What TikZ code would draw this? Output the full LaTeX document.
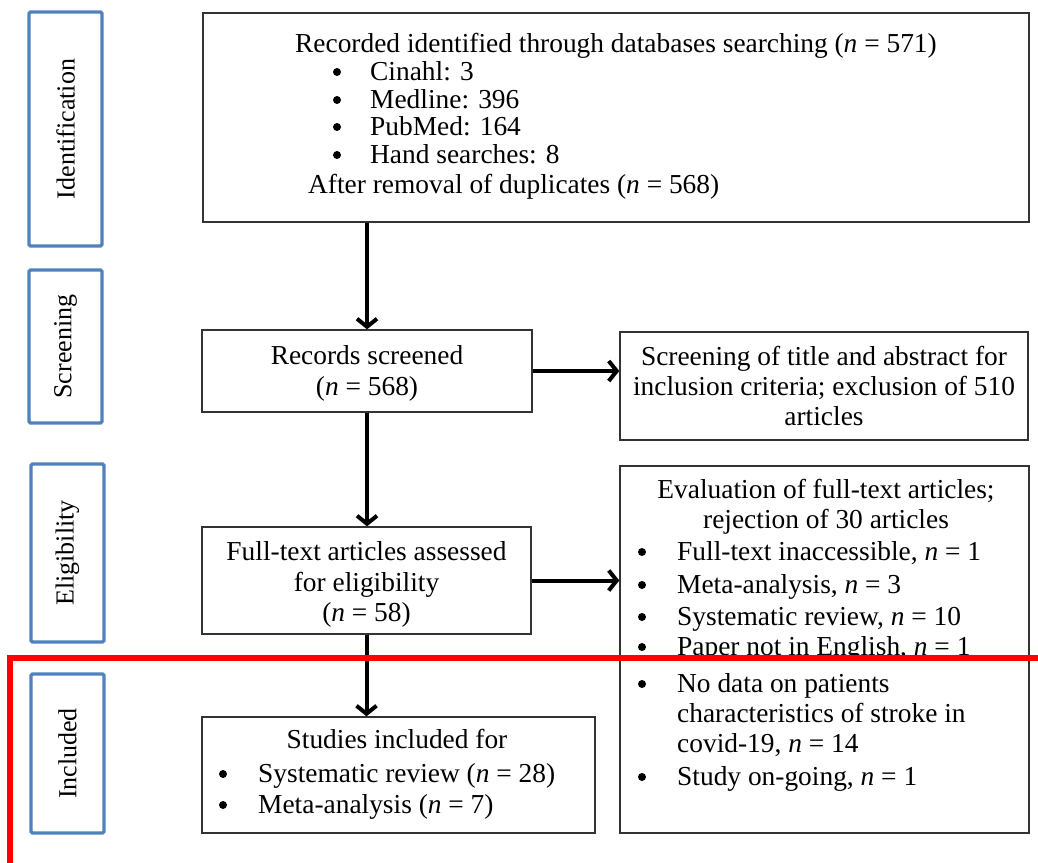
\documentclass[tikz,border=0pt]{standalone}
\usepackage{fontspec}
\setmainfont{Liberation Serif}
\usetikzlibrary{fit,arrows.meta}
\definecolor{lblblue}{HTML}{4F81BD}
\begin{document}
\begin{tikzpicture}[x=1pt,y=1pt,
  box/.style={draw=black!80, line width=1.4pt, inner sep=0pt, fill=white},
  lblbox/.style={draw=lblblue, line width=3.2pt, rounded corners=1.5pt, inner sep=0pt},
  lbltxt/.style={rotate=90, font=\fontsize{26}{30}\selectfont, inner sep=0pt},
  txt/.style={font=\fontsize{27.4}{31}\selectfont, inner sep=0pt, anchor=base},
  ltxt/.style={font=\fontsize{27.4}{31}\selectfont, inner sep=0pt, anchor=base west},
  bul/.style={circle, fill=black, inner sep=0pt, minimum size=8pt},
  arr/.style={line width=4pt, -{Straight Barb[length=8pt,width=20pt]}}
]
\useasboundingbox (0,0) rectangle (1038,-862);

% phase labels
\node[lblbox, fit={(29,-12)(102,-246)}] (l1) {};
\node[lbltxt] (l1t) at (l1.center) {Identification};
\node[lblbox, fit={(29,-270)(102,-423)}] (l2) {};
\node[lbltxt] (l2t) at (l2.center) {Screening};
\node[lblbox, fit={(31,-464)(104,-642)}] (l3) {};
\node[lbltxt] (l3t) at (l3.center) {Eligibility};
\node[lblbox, fit={(31,-674)(104,-833)}] (l4) {};
\node[lbltxt] (l4t) at (l4.center) {Included};

% boxes
\node[box, fit={(203,-13)(1029,-222)}] (b1) {};
\node[box, fit={(202,-330)(532,-412)}] (rs) {};
\node[box, fit={(620,-332)(1028,-440)}] (sc) {};
\node[box, fit={(202,-527)(531,-634)}] (ft) {};
\node[box, fit={(620,-466)(1029,-833)}] (ev) {};
\node[box, fit={(202,-717)(595,-833)}] (st) {};

% box 1 text
\node[txt] (b1a) at (616,-52) {Recorded identified through databases searching (\textit{n} = 571)};
\node[bul] (b1b1) at (337,-72) {};
\node[ltxt] (b1b) at (370,-80) {Cinahl: 3};
\node[bul] (b1c1) at (337,-100) {};
\node[ltxt] (b1c) at (370,-108) {Medline: 396};
\node[bul] (b1d1) at (337,-127) {};
\node[ltxt] (b1d) at (370,-135) {PubMed: 164};
\node[bul] (b1e1) at (337,-155) {};
\node[ltxt] (b1e) at (370,-163) {Hand searches: 8};
\node[ltxt] (b1f) at (308,-193) {After removal of duplicates (\textit{n} = 568)};

% records screened
\node[txt] (rsa) at (367,-364) {Records screened};
\node[txt] (rsb) at (367,-395) {(\textit{n} = 568)};

% screening exclusion
\node[txt] (sca) at (824,-365) {Screening of title and abstract for};
\node[txt] (scb) at (824,-395) {inclusion criteria; exclusion of 510};
\node[txt] (scc) at (824,-425) {articles};

% full text
\node[txt] (fta) at (366.5,-560) {Full-text articles assessed};
\node[txt] (ftb) at (366.5,-591) {for eligibility};
\node[txt] (ftc) at (366.5,-621) {(\textit{n} = 58)};

% evaluation
\node[txt] (eva) at (826,-498) {Evaluation of full-text articles;};
\node[txt] (evb) at (826,-528) {rejection of 30 articles};
\node[bul] (evc1) at (642,-552) {};
\node[ltxt] (evc) at (677,-560) {Full-text inaccessible, \textit{n} = 1};
\node[bul] (evd1) at (642,-585) {};
\node[ltxt] (evd) at (677,-593) {Meta-analysis, \textit{n} = 3};
\node[bul] (eve1) at (642,-617) {};
\node[ltxt] (eve) at (677,-625) {Systematic review, \textit{n} = 10};
\node[bul] (evf1) at (642,-647) {};
\node[ltxt] (evf) at (677,-655) {Paper not in English, \textit{n} = 1};
\node[bul] (evg1) at (642,-684) {};
\node[ltxt] (evg) at (677,-692) {No data on patients};
\node[ltxt] (evh) at (677,-722) {characteristics of stroke in};
\node[ltxt] (evi) at (677,-752) {covid-19, \textit{n} = 14};
\node[bul] (evj1) at (642,-777) {};
\node[ltxt] (evj) at (677,-785) {Study on-going, \textit{n} = 1};

% studies included
\node[txt] (sta) at (397,-748) {Studies included for};
\node[bul] (stb1) at (223,-774) {};
\node[ltxt] (stb) at (258,-782) {Systematic review (\textit{n} = 28)};
\node[bul] (stc1) at (223,-805) {};
\node[ltxt] (stc) at (258,-813) {Meta-analysis (\textit{n} = 7)};

% arrows
\draw[arr] (b1.south -| rs.north) -- (rs.north);
\draw[arr] (rs.east) -- (sc.west |- rs.east);
\draw[arr] (rs.south) -- (ft.north -| rs.south);
\draw[arr] (ft.east) -- (ev.west |- ft.east);
\draw[arr] (ft.south) -- (st.north -| ft.south);

% red highlight frame
\draw[red, line width=6.5pt] (1050,-658) -- (10,-658) -- (10,-880);
\end{tikzpicture}
\end{document}
